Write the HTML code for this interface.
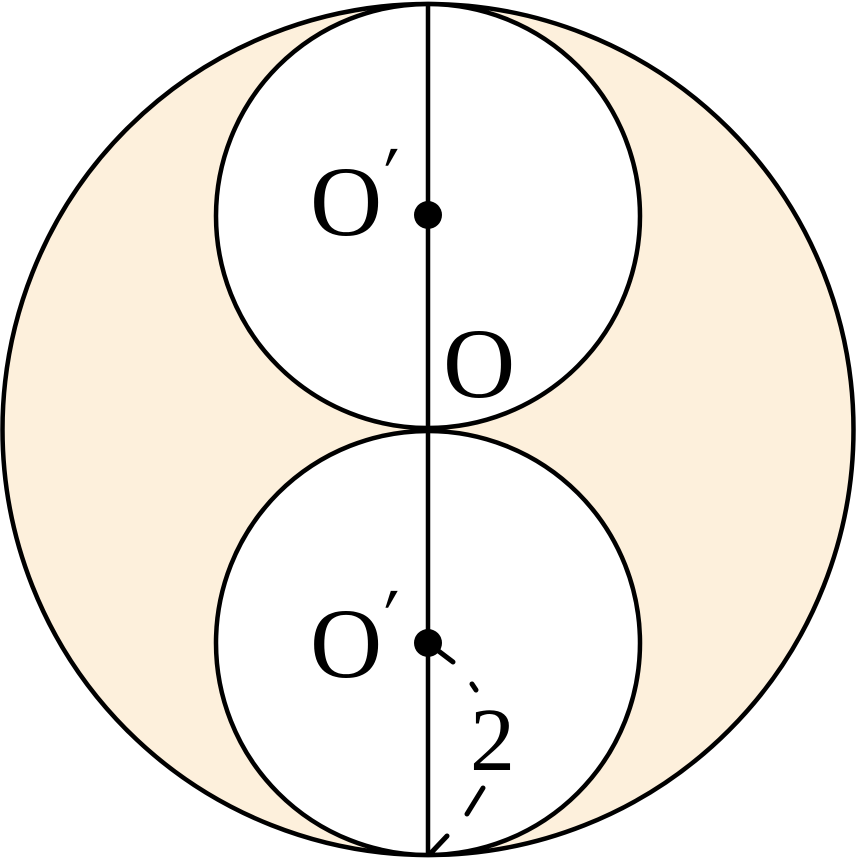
<!DOCTYPE html>
<html><head><style>html,body{margin:0;padding:0;background:#fff}svg{display:block}</style></head>
<body>
<svg width="856" height="859" viewBox="0 0 856 859" xmlns="http://www.w3.org/2000/svg">
<circle cx="428" cy="429.5" r="425.5" fill="#fdf0dc" stroke="#000" stroke-width="4.5"/>
<circle cx="428" cy="216" r="212" fill="#fff" stroke="#000" stroke-width="4.5"/>
<circle cx="428" cy="643" r="212" fill="#fff" stroke="#000" stroke-width="4.5"/>
<line x1="428" y1="3" x2="428" y2="856" stroke="#000" stroke-width="4.5"/>
<circle cx="428" cy="215" r="14" fill="#000"/>
<circle cx="428" cy="643" r="14" fill="#000"/>
<g stroke="#000" stroke-width="5" stroke-linecap="round">
<line x1="428" y1="643" x2="453" y2="662"/>
<line x1="472" y1="684" x2="476" y2="690"/>
<line x1="483" y1="788" x2="467" y2="814"/>
<line x1="447" y1="836" x2="430" y2="854"/>
</g>
<g font-family="Liberation Serif, serif" font-size="100" fill="#000">
<text x="310" y="235">O</text>
<text x="381" y="196" font-size="72" transform="skewX(-12)" transform-origin="395 170">′</text>
<text x="310" y="677">O</text>
<text x="381" y="638" font-size="72" transform="skewX(-12)" transform-origin="395 612">′</text>
<text x="443" y="397">O</text>
<text x="470" y="770" font-size="90">2</text>
</g>
</svg>
</body></html>
